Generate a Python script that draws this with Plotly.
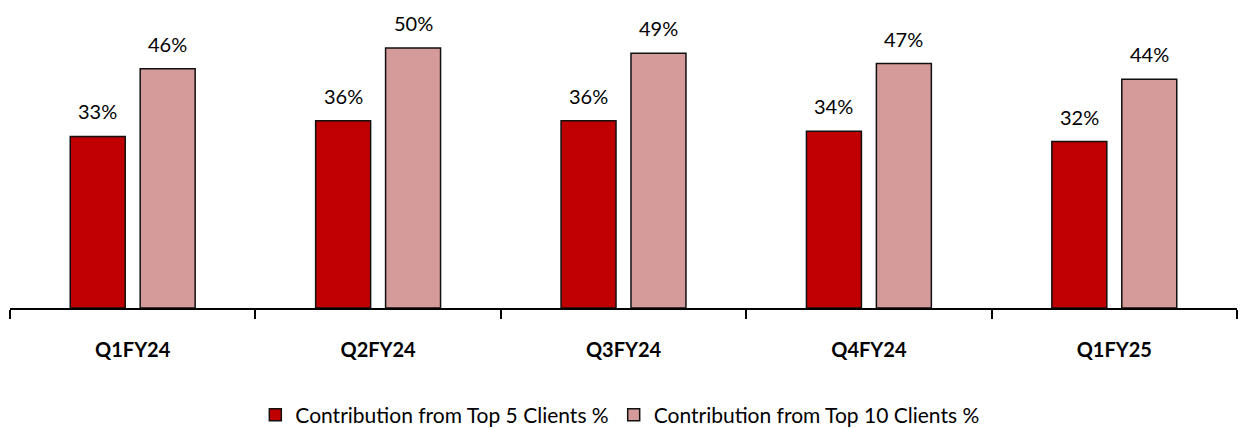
import plotly.graph_objects as go

categories = ["Q1FY24", "Q2FY24", "Q3FY24", "Q4FY24", "Q1FY25"]
top5 = [33, 36, 36, 34, 32]
top10 = [46, 50, 49, 47, 44]
series_names = ["Contribution from Top 5 Clients %", "Contribution from Top 10 Clients %"]

BARGAP = 0.43
BARGROUPGAP = 0.214
FONT = "Lato"

fig = go.Figure()
fig.add_trace(go.Bar(x=categories, y=top5, name=series_names[0],
                     marker=dict(color="#C00000", line=dict(color="#111111", width=1.5))))
fig.add_trace(go.Bar(x=categories, y=top10, name=series_names[1],
                     marker=dict(color="#D59A9A", line=dict(color="#111111", width=1.5))))

off = (1 - BARGAP) / 4
annotations = []
for i, (a, b) in enumerate(zip(top5, top10)):
    for dx, v in ((-off, a), (off, b)):
        annotations.append(dict(x=i + dx, y=v, xref="x", yref="y", text=f"{v}%",
                                showarrow=False, yanchor="bottom", yshift=11,
                                font=dict(family=FONT, size=20, color="#000000")))

fig.update_layout(
    width=1245, height=428,
    margin=dict(l=10, r=8, t=10, b=120, autoexpand=False),
    barmode="group", bargap=BARGAP, bargroupgap=BARGROUPGAP,
    plot_bgcolor="white", paper_bgcolor="white",
    font=dict(family=FONT, size=20, color="#000000"),
    annotations=annotations,
    showlegend=True,
    legend=dict(orientation="h", x=0.497, xanchor="center", yref="container",
                y=0.03, yanchor="middle",
                font=dict(family=FONT, size=21), itemwidth=30, traceorder="normal"),
    xaxis=dict(showline=True, linecolor="#000000", linewidth=2,
               ticks="outside", tickson="boundaries", ticklen=9, tickwidth=2, tickcolor="#000000",
               tickfont=dict(family=FONT, size=20, color="#000000", weight="bold"),
               ticklabelstandoff=23),
    yaxis=dict(range=[0, 57.3], visible=False, showgrid=False),
)

fig.write_html("out.html")
